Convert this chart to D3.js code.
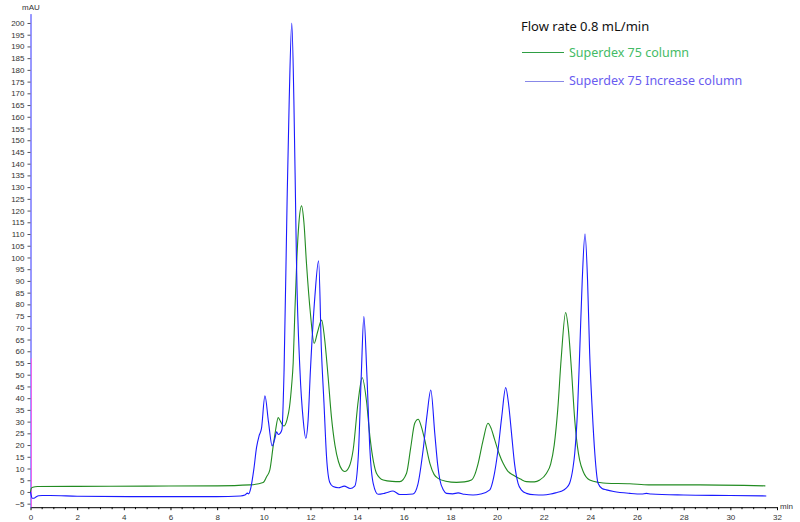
<!DOCTYPE html>
<html><head><meta charset="utf-8">
<script src="https://cdn.jsdelivr.net/npm/d3@7"></script>
<style>html,body{margin:0;padding:0;background:#fff;} svg{display:block;}</style>
</head><body>
<svg id="chart" width="800" height="522"></svg>
<script>
const greenTime = [0,0.03,0.1,0.3,2,5,8,9.4,9.97,10.12,10.26,10.4,10.5,10.62,10.72,10.86,11.0,11.1,11.19,11.26,11.33,11.42,11.5,11.62,11.72,11.83,12.0,12.16,12.3,12.48,12.6,12.75,12.9,13.05,13.2,13.35,13.47,13.65,13.83,14.05,14.22,14.4,14.55,14.7,14.83,15.12,15.5,15.83,16.12,16.3,16.47,16.62,16.75,16.9,17.12,17.3,17.47,17.8,18.26,18.6,18.9,19.05,19.19,19.4,19.61,19.75,19.9,20.1,20.26,20.45,20.69,21.0,21.26,21.6,21.83,22.12,22.3,22.45,22.6,22.75,22.94,23.05,23.19,23.33,23.45,23.54,23.7,23.97,24.4,24.69,25.69,26.5,28.7,31.5];
const greenValue = [0,1.5,2.0,2.3,2.4,2.5,2.6,3.0,4,6.5,9.4,19.3,26,31.7,30,28.1,31,36,45,55,76,100,114,122,115,97.5,76,63.4,68,73.3,66,50,32,20,13,9.5,8.7,10.5,17.9,39,48.7,39,23.6,13,8,5.1,4.5,4.4,8,19,29.3,31,28,22.2,12.2,7.5,5.8,4.6,4.1,4.3,5.1,7.5,12.2,22,29.3,27,22.2,16,12.2,9,7.2,5.5,4.4,4.3,5.1,8,12,20,35,57,76.5,70,52,30.7,19,13.6,8.5,5.1,4,3.7,3.5,3.0,3,2.6];

const blueTime = [0,0.03,0.07,0.15,0.25,0.35,0.5,0.84,2,4.26,7.98,9.0,9.19,9.3,9.35,9.45,9.57,9.69,9.8,9.9,10.05,10.2,10.36,10.48,10.55,10.62,10.7,10.78,10.87,11.0,11.09,11.2,11.29,11.36,11.4,11.55,11.69,11.8,11.9,12.0,12.19,12.35,12.47,12.58,12.69,12.83,12.97,13.2,13.45,13.7,13.9,14.05,14.18,14.29,14.42,14.55,14.69,14.9,15.2,15.54,15.83,16.1,16.4,16.6,16.83,17.0,17.16,17.33,17.45,17.55,17.7,17.83,18.1,18.33,18.6,18.97,19.3,19.69,19.85,20.04,20.2,20.37,20.5,20.62,20.75,20.9,21.05,21.26,21.6,21.97,22.3,22.54,22.75,22.95,23.11,23.25,23.33,23.45,23.54,23.65,23.77,23.88,23.97,24.08,24.19,24.33,24.5,24.69,25.0,25.69,26.2,26.4,26.6,28,30,31.54];
const blueValue = [0,-1.5,-2.7,-2.7,-2.0,-1.6,-1.5,-1.5,-1.8,-2,-2,-1.7,-1.3,-0.5,-0.8,2,9.4,19,24,27,41,30,19.6,23,25.7,24.5,25,26.7,52,124.5,167,200,167,124.5,99,52,30.7,22.9,30.7,52,83.3,98.6,60.5,38,15,4,2.3,1.8,2.5,1.5,2.5,15,50,74.8,50,17.9,3.7,-1.0,-0.5,0.4,-1.1,-1.1,-0.9,3,17.9,33,43.5,25,12,5.1,0.8,-0.6,-0.8,-0.4,-1.0,-1.3,-0.9,0.9,6,17.9,32,44.5,37,25,12,3.7,0.8,-0.6,-1.2,-1.3,-0.9,-0.3,0.3,1.5,3.7,10,16.5,35,59,90,110,90,59,35,16.5,3.7,1.5,0.9,0.2,-0.6,-0.9,-0.6,-0.9,-1.3,-1.5,-1.7];

const xTickValues = [0,2,4,6,8,10,12,14,16,18,20,22,24,26,28,30,32];
const yTickValues = d3.range(-5, 201, 5);
const legendTitle = "Flow rate 0.8 mL/min";
const seriesNames = ["Superdex 75 column", "Superdex 75 Increase column"];

const svg = d3.select("#chart");
const x = d3.scaleLinear().domain([0, 32]).range([30.5, 777]);
const y = d3.scaleLinear().domain([-6.5, 204]).range([507.2, 13.6]);

const tickFont = "'Liberation Sans', Arial, sans-serif";

// x axis
const xAxis = d3.axisBottom(x).tickValues(xTickValues).tickSize(3).tickSizeOuter(0).tickFormat(d3.format("d"));
const gx = svg.append("g").attr("transform", `translate(0,${y(-6.5)})`).call(xAxis);
gx.select(".domain").attr("stroke", "#000");
gx.selectAll(".tick line").attr("stroke", "#000");
gx.selectAll("text").attr("font-family", tickFont).attr("font-size", 8).attr("fill", "#333").attr("dy", "0.9em");
const minorX = d3.range(0, 32.01, 0.5).filter(v => v % 2 !== 0);
svg.append("g").selectAll("line").data(minorX).join("line")
  .attr("x1", d => x(d)).attr("x2", d => x(d))
  .attr("y1", y(-6.5)).attr("y2", y(-6.5) + 2)
  .attr("stroke", "#000").attr("stroke-width", 1);
svg.append("text").attr("x", x(32) + 3).attr("y", y(-6.5) + 2)
  .attr("font-family", tickFont).attr("font-size", 8).attr("fill", "#333").text("min");

// y axis
const yAxis = d3.axisLeft(y).tickValues(yTickValues).tickSize(3).tickSizeOuter(0).tickFormat(d3.format("d"));
const gy = svg.append("g").attr("transform", `translate(${x(0)},0)`).call(yAxis);
gy.select(".domain").attr("stroke", "#3333ff");
gy.selectAll(".tick line").attr("stroke", "#555");
gy.selectAll("text").attr("font-family", tickFont).attr("font-size", 8).attr("fill", "#333");
svg.append("text").attr("x", 22).attr("y", 10)
  .attr("font-family", tickFont).attr("font-size", 8).attr("fill", "#333").text("mAU");

// injection marker
svg.append("line").attr("x1", x(0) + 1).attr("x2", x(0) + 1)
  .attr("y1", y(57)).attr("y2", y(-6.5))
  .attr("stroke", "#ee66ee").attr("stroke-width", 1);

const line = d3.line().x(d => x(d[0])).y(d => y(d[1])).curve(d3.curveMonotoneX);
const greenData = d3.zip(greenTime, greenValue);
const blueData = d3.zip(blueTime, blueValue);

svg.append("path").datum(greenData).attr("d", line)
  .attr("fill", "none").attr("stroke", "#228b22").attr("stroke-width", 1.1);
svg.append("path").datum(blueData).attr("d", line)
  .attr("fill", "none").attr("stroke", "#1a1aff").attr("stroke-width", 1.1);

// legend
const lf = "'Noto Sans', 'Open Sans', sans-serif";
svg.append("text").attr("x", 521).attr("y", 31).attr("font-family", lf).attr("font-size", 13).attr("fill", "#111").text(legendTitle);
svg.append("line").attr("x1", 522).attr("x2", 564).attr("y1", 52.5).attr("y2", 52.5).attr("stroke", "#2e9e44").attr("stroke-width", 1);
svg.append("text").attr("x", 569).attr("y", 57).attr("font-family", lf).attr("font-size", 12.5).attr("fill", "#44bb66").text(seriesNames[0]);
svg.append("line").attr("x1", 525).attr("x2", 564).attr("y1", 81.5).attr("y2", 81.5).attr("stroke", "#8888e8").attr("stroke-width", 1);
svg.append("text").attr("x", 569).attr("y", 85).attr("font-family", lf).attr("font-size", 12.5).attr("fill", "#6a5cf0").text(seriesNames[1]);
</script>
</body></html>
